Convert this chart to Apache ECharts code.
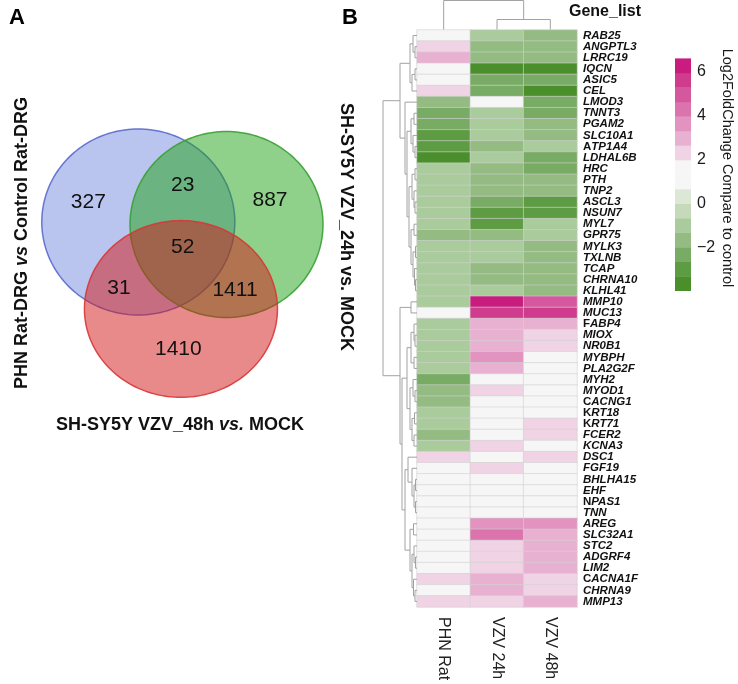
<!DOCTYPE html>
<html><head><meta charset="utf-8">
<script src="https://cdn.jsdelivr.net/npm/echarts@6/dist/echarts.min.js"></script>
<style>html,body{margin:0;padding:0;background:#fff}#c{width:738px;height:684px}</style>
</head><body><div id="c"></div>
<script>
// ---------------- DATA ----------------
const genes = ['RAB25','ANGPTL3','LRRC19','IQCN','ASIC5','CEL','LMOD3','TNNT3','PGAM2','SLC10A1','ATP1A4','LDHAL6B','HRC','PTH','TNP2','ASCL3','NSUN7','MYL7','GPR75','MYLK3','TXLNB','TCAP','CHRNA10','KLHL41','MMP10','MUC13','FABP4','MIOX','NR0B1','MYBPH','PLA2G2F','MYH2','MYOD1','CACNG1','KRT18','KRT71','FCER2','KCNA3','DSC1','FGF19','BHLHA15','EHF','NPAS1','TNN','AREG','SLC32A1','STC2','ADGRF4','LIM2','CACNA1F','CHRNA9','MMP13'];
const conditions = ['PHN Rat','VZV 24h','VZV 48h'];
const phnRat = [1.0,2.3,3.0,1.0,1.0,2.3, -1.6,-2.3,-2.3,-2.9,-2.9,-3.6, -1.0,-1.0,-1.0,-1.0,-1.0,-1.0, -1.6,-1.0,-1.0,-1.0,-1.0,-1.0, -1.0,1.0, -1.0,-1.0,-1.0,-1.0,-1.0, -2.3,-1.6,-1.6,-1.0,-1.0,-1.6,-1.0, 2.3,1.0, 1.0,1.0,1.0,1.0, 1.0,1.0,1.0,1.0,1.0,2.3,1.0,2.3];
const vzv24h = [-1.0,-1.6,-1.6,-3.6,-2.3,-2.3, 1.0,-1.0,-1.0,-1.0,-1.6,-1.0, -1.6,-1.6,-1.6,-2.3,-2.9,-2.9, -1.6,-1.0,-1.0,-1.6,-1.6,-1.0, 6.3,5.6, 3.0,3.0,3.0,3.6,3.0, 1.0,2.3,1.0,1.0,1.0,1.0,2.3, 1.0,2.3, 1.0,1.0,1.0,1.0, 3.6,4.3,2.3,2.3,2.3,3.0,3.0,2.3];
const vzv48h = [-1.6,-1.6,-1.6,-3.6,-2.3,-3.6, -2.3,-2.3,-1.6,-1.6,-1.0,-2.3, -2.3,-1.6,-1.6,-2.9,-2.9,-1.0, -1.0,-1.6,-1.6,-1.6,-1.6,-1.6, 5.0,5.6, 3.0,2.3,2.3,1.0,1.0, 1.0,1.0,1.0,1.0,2.3,2.3,1.0, 2.3,1.0, 1.0,1.0,1.0,1.0, 3.6,3.0,3.0,3.0,3.0,2.3,2.3,3.0];
const legendBreaks = [-3.94,-3.28,-2.62,-1.96,-1.30,-0.64,0.02,0.68,1.34,2.00,2.66,3.32,3.98,4.64,5.30,5.96,6.62];
const legendColors = ['#4b8f2c','#5e9c43','#78ab63','#93bb82','#aacb9c','#c4dab9','#dce7d6','#f6f6f6','#f6f6f6','#f0d3e4','#e9b1d1','#e293c0','#db74ad','#d5579d','#cf3c8e','#c81c7f'];
const legendTicks = [-2, 0, 2, 4, 6];
// hierarchical clustering: [height, left, right], leaves are row / column indices
const rowTree = [34,
  [17,
    [7, [4, 0, [2, 1, 2]], [5, [2, 3, 4], 5]],
    [12, 6, [10, [6, [3, 7, 8], [4, 9, [2, 10, 11]]],
               [8, [5, [2, 12, 13], [3, 14, [2, 15, 16]]],
                   [6, [3, 17, 18], [4, [1.5, 19, 20], [2.5, 21, [1.5, 22, 23]]]]]]]
  ],
  [17,
    [6, 24, 25],
    [15,
      [10, [6, [3, 26, [2, 27, 28]], [3, 29, 30]], [7, [4, 31, [2, 32, 33]], [5, [2.5, 34, 35], [3, 36, 37]]]],
      [12, [9, 38, [5, 39, [3, [1.5, 40, 41], [1.5, 42, 43]]]], [7, [3.5, 44, 45], [5, [3, 46, [1.5, 47, 48]], [3.5, 49, [2, 50, 51]]]]]
    ]
  ]
];
const colTree = [29, 0, [10, 1, 2]];
const vennSetNames = ['PHN Rat-DRG vs Control Rat-DRG', 'SH-SY5Y VZV_24h vs. MOCK', 'SH-SY5Y VZV_48h vs. MOCK'];
const vennRegions = ['PHN only','PHN & 24h','24h only','all three','PHN & 48h','24h & 48h','48h only'];
const vennCounts = [327, 23, 887, 52, 31, 1411, 1410];

// ---------------- LAYOUT / STYLE ----------------
const FONT = 'Liberation Sans, Arial, Helvetica, sans-serif';
const vennCircles = [{cx:0, cy:0, rx:1, ry:1}, {cx:0.914, cy:-0.027, rx:1, ry:1}, {cx:0.442, cy:-0.935, rx:1, ry:0.95}];
const vennFill = ['rgba(115,139,221,0.5)', 'rgba(31,161,21,0.5)', 'rgba(211,21,21,0.5)'];
const vennStroke = ['rgba(90,105,205,0.9)', 'rgba(55,160,50,0.9)', 'rgba(215,55,55,0.9)'];
const vennLabelPos = [[-0.518,0.218],[0.460,0.398],[1.365,0.237],[0.460,-0.266],[-0.200,-0.710],[1.002,-0.731],[0.415,-1.369]];
const uprightFirst = {ATP1A4:1, FABP4:1, CACNG1:1, KRT18:1, KRT71:1, NPAS1:1, CACNA1F:1};

// ---------------- BUILD ----------------
const cols = [phnRat, vzv24h, vzv48h];
const heatData = [];
cols.forEach((arr, c) => arr.forEach((v, r) => heatData.push([c, r, v])));

function layoutTree(node, segs, swap) {
  if (typeof node === 'number') return {pos: node + 0.5, h: 0};
  const h = node[0];
  const A = layoutTree(node[1], segs, swap), B = layoutTree(node[2], segs, swap);
  let pts = [[A.h, A.pos], [h, A.pos], [h, B.pos], [B.h, B.pos]];
  if (swap) pts = pts.map(p => [p[1], p[0]]);
  segs.push({coords: pts});
  return {pos: (A.pos + B.pos) / 2, h: h};
}
const rowSegs = []; layoutTree(rowTree, rowSegs, false);
const colSegs = []; layoutTree(colTree, colSegs, true);

const pieces = legendColors.map((c, i) => ({gte: legendBreaks[i], lt: legendBreaks[i + 1], color: c}));
const legendData = legendColors.map((c, i) => [0.5, (legendBreaks[i] + legendBreaks[i + 1]) / 2, legendBreaks[i], legendBreaks[i + 1]]);

const chart = echarts.init(document.getElementById('c'), null, {renderer: 'canvas'});
const hidden = {show: false};
const option = {
  animation: false,
  backgroundColor: '#ffffff',
  textStyle: {fontFamily: FONT},
  grid: [
    {left: 3.2, top: 101.1, width: 376.35, height: 344.1, outerBoundsMode: 'none'},
    {left: 417, top: 30, width: 160, height: 577, outerBoundsMode: 'none'},
    {left: 383, top: 30, width: 34, height: 577, outerBoundsMode: 'none'},
    {left: 417, top: 0, width: 160, height: 29.5, outerBoundsMode: 'none'},
    {left: 675, top: 58.4, width: 16, height: 232.3, outerBoundsMode: 'none'}
  ],
  xAxis: [
    {type: 'value', gridIndex: 0, min: -1.4, max: 2.5, show: false},
    {type: 'category', gridIndex: 1, data: conditions, axisLine: hidden, axisTick: hidden, splitLine: hidden,
      axisLabel: {rotate: -90, fontSize: 16, margin: 10, color: '#222', fontFamily: FONT}},
    {type: 'value', gridIndex: 2, min: 0, max: 34, inverse: true, show: false},
    {type: 'value', gridIndex: 3, min: 0, max: 3, show: false},
    {type: 'value', gridIndex: 4, min: 0, max: 1, show: false}
  ],
  yAxis: [
    {type: 'value', gridIndex: 0, min: -2.4, max: 1.3, show: false},
    {type: 'category', gridIndex: 1, data: genes, inverse: true, position: 'right', axisLine: hidden, axisTick: hidden, splitLine: hidden,
      axisLabel: {interval: 0, margin: 6, color: '#111', fontSize: 11.5, fontWeight: 'bold', fontFamily: FONT,
        formatter: g => uprightFirst[g] ? '{u|' + g[0] + '}{i|' + g.slice(1) + '}' : '{i|' + g + '}',
        rich: {
          i: {fontStyle: 'italic', fontWeight: 'bold', fontSize: 11.5, color: '#111', fontFamily: FONT},
          u: {fontStyle: 'normal', fontWeight: 'bold', fontSize: 11.5, color: '#111', fontFamily: FONT}
        }}},
    {type: 'value', gridIndex: 2, min: 0, max: 52, inverse: true, show: false},
    {type: 'value', gridIndex: 3, min: 0, max: 29.5, show: false},
    {type: 'value', gridIndex: 4, min: legendBreaks[0], max: legendBreaks[legendBreaks.length - 1], position: 'right',
      axisLine: hidden, axisTick: hidden, splitLine: hidden,
      axisLabel: {customValues: legendTicks, fontSize: 16, margin: 6, color: '#1a1a1a', fontFamily: FONT,
        formatter: v => v < 0 ? '\u2212' + (-v) : String(v)}}
  ],
  visualMap: [{type: 'piecewise', show: false, seriesIndex: 0, dimension: 2, pieces: pieces}],
  series: [
    {type: 'heatmap', xAxisIndex: 1, yAxisIndex: 1, data: heatData,
      itemStyle: {borderColor: '#d2d2d2', borderWidth: 0.6}, emphasis: {disabled: true}, silent: true},
    {type: 'lines', coordinateSystem: 'cartesian2d', xAxisIndex: 2, yAxisIndex: 2, polyline: true, data: rowSegs,
      lineStyle: {color: '#a2a2a2', width: 1, opacity: 1}, silent: true},
    {type: 'lines', coordinateSystem: 'cartesian2d', xAxisIndex: 3, yAxisIndex: 3, polyline: true, data: colSegs,
      lineStyle: {color: '#a2a2a2', width: 1, opacity: 1}, silent: true},
    {type: 'custom', xAxisIndex: 4, yAxisIndex: 4, data: legendData, silent: true, encode: {x: 0, y: 1},
      renderItem: (params, api) => {
        const p1 = api.coord([0, api.value(3)]);
        const p2 = api.coord([1, api.value(2)]);
        return {type: 'rect', shape: {x: p1[0], y: p1[1], width: p2[0] - p1[0], height: p2[1] - p1[1] + 0.3},
          style: {fill: legendColors[params.dataIndex]}};
      }},
    {type: 'custom', xAxisIndex: 0, yAxisIndex: 0, silent: true, encode: {x: 0, y: 1},
      data: vennCircles.map((c, i) => [c.cx, c.cy, i]),
      renderItem: (params, api) => {
        const c = vennCircles[params.dataIndex];
        const pts = [];
        for (let k = 0; k < 180; k++) {
          const t = k / 180 * 2 * Math.PI;
          pts.push(api.coord([c.cx + c.rx * Math.cos(t), c.cy + c.ry * Math.sin(t)]));
        }
        return {type: 'polygon', shape: {points: pts},
          style: {fill: vennFill[params.dataIndex], stroke: vennStroke[params.dataIndex], lineWidth: 1.5}};
      }},
    {type: 'scatter', xAxisIndex: 0, yAxisIndex: 0, z: 5, symbolSize: 1, silent: true,
      itemStyle: {color: 'rgba(0,0,0,0)'},
      data: vennCounts.map((n, i) => ({name: vennRegions[i], value: [vennLabelPos[i][0], vennLabelPos[i][1], n]})),
      label: {show: true, position: 'inside', formatter: p => String(p.value[2]), fontSize: 21, color: '#111', fontFamily: FONT, opacity: 1}}
  ],
  graphic: [
    {type: 'text', x: 9, y: 18, style: {text: 'A', font: 'bold 22px ' + FONT, fill: '#000', textAlign: 'left', textVerticalAlign: 'middle', align: 'left', verticalAlign: 'middle'}},
    {type: 'text', x: 342, y: 18, style: {text: 'B', font: 'bold 22px ' + FONT, fill: '#000', textAlign: 'left', textVerticalAlign: 'middle', align: 'left', verticalAlign: 'middle'}},
    {type: 'text', x: 569, y: 12, style: {text: 'Gene_list', font: 'bold 16px ' + FONT, fill: '#111', textAlign: 'left', textVerticalAlign: 'middle', align: 'left', verticalAlign: 'middle'}},
    {type: 'text', x: 22, y: 243, rotation: Math.PI / 2,
      style: {text: 'PHN Rat-DRG {i|vs} Control Rat-DRG', font: 'bold 18px ' + FONT, fill: '#111',
        textAlign: 'center', textVerticalAlign: 'middle', align: 'center', verticalAlign: 'middle',
        rich: {i: {fontStyle: 'italic', fontWeight: 'bold', fontSize: 18, fontFamily: FONT, fill: '#111'}}}},
    {type: 'text', x: 180, y: 425,
      style: {text: 'SH-SY5Y VZV_48h {i|vs.} MOCK', font: 'bold 18px ' + FONT, fill: '#111',
        textAlign: 'center', textVerticalAlign: 'middle', align: 'center', verticalAlign: 'middle',
        rich: {i: {fontStyle: 'italic', fontWeight: 'bold', fontSize: 18, fontFamily: FONT, fill: '#111'}}}},
    {type: 'text', x: 346, y: 227, rotation: -Math.PI / 2,
      style: {text: vennSetNames[1], font: 'bold 18px ' + FONT, fill: '#111',
        textAlign: 'center', textVerticalAlign: 'middle', align: 'center', verticalAlign: 'middle'}},
    {type: 'text', x: 727, y: 168, rotation: -Math.PI / 2,
      style: {text: 'Log2FoldChange Compare to control', font: '14.5px ' + FONT, fill: '#1a1a1a',
        textAlign: 'center', textVerticalAlign: 'middle', align: 'center', verticalAlign: 'middle'}}
  ]
};
chart.setOption(option);
</script></body></html>
